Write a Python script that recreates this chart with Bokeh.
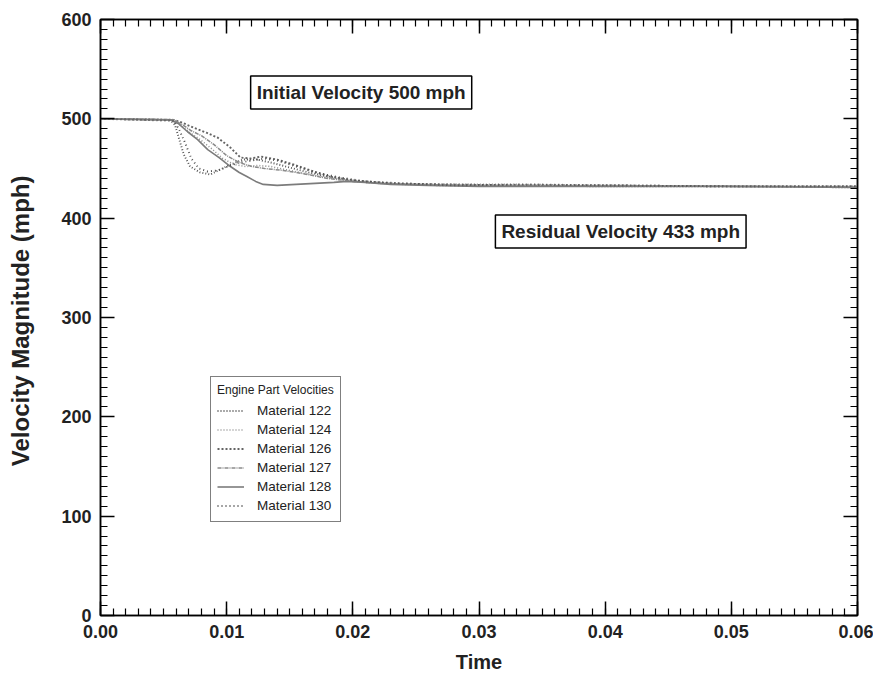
from bokeh.plotting import figure
from bokeh.models import (LinearAxis, SingleIntervalTicker, PrintfTickFormatter,
                          CustomJSTickFormatter, Legend, LegendItem, Label)
from bokeh.embed import file_html
from bokeh.resources import INLINE

# ---- data ----
series_names = ["Material 122", "Material 124", "Material 126",
                "Material 127", "Material 128", "Material 130"]

t_122 = [0, 0.0055, 0.0059, 0.0062, 0.0066, 0.0071, 0.0079, 0.0087, 0.0095, 0.0103,
         0.0113, 0.0124, 0.0135, 0.0150, 0.0165, 0.0180, 0.0200, 0.0230, 0.0270,
         0.0330, 0.0400, 0.0500, 0.0600]
v_122 = [500, 499, 494, 481, 464, 452, 446, 444, 449, 454,
         459, 459, 456, 451, 446, 442, 438, 435, 433,
         433, 432, 432, 431]

t_124 = [0, 0.0058, 0.0064, 0.0071, 0.0079, 0.0088, 0.0097, 0.0106, 0.0115, 0.0125,
         0.0135, 0.0150, 0.0170, 0.0190, 0.0210, 0.0240, 0.0280, 0.0330, 0.0400,
         0.0500, 0.0600]
v_124 = [500, 499, 493, 486, 479, 470, 460, 454, 452, 453,
         452, 448, 443, 439, 436, 434, 434, 434, 433,
         432, 432]

t_126 = [0, 0.0058, 0.0065, 0.0074, 0.0084, 0.0093, 0.0103, 0.0111, 0.0119, 0.0127,
         0.0140, 0.0153, 0.0169, 0.0182, 0.0200, 0.0230, 0.0270, 0.0330, 0.0400,
         0.0500, 0.0600]
v_126 = [500, 499, 496, 491, 486, 481, 471, 461, 460, 462,
         459, 454, 447, 442, 438, 435, 434, 433, 433,
         432, 432]

t_127 = [0, 0.0058, 0.0065, 0.0072, 0.0080, 0.0090, 0.0100, 0.0110, 0.0120, 0.0130,
         0.0145, 0.0160, 0.0180, 0.0200, 0.0220, 0.0250, 0.0300, 0.0400, 0.0500, 0.0600]
v_127 = [500, 499, 494, 488, 483, 474, 463, 456, 452, 450,
         448, 445, 440, 437, 435, 434, 433, 433, 432, 432]

t_128 = [0, 0.0055, 0.0062, 0.0069, 0.0077, 0.0085, 0.0094, 0.0103, 0.0110, 0.0116,
         0.0123, 0.0129, 0.0140, 0.0155, 0.0170, 0.0185, 0.0195, 0.0210, 0.0230,
         0.0260, 0.0300, 0.0400, 0.0500, 0.0600]
v_128 = [500, 499, 495, 487, 479, 469, 461, 452, 446, 442,
         437, 434, 433, 434, 435, 436, 437, 436, 434,
         433, 432, 432, 432, 431]

t_130 = [0, 0.0058, 0.0062, 0.0067, 0.0072, 0.0078, 0.0085, 0.0093, 0.0101, 0.0110,
         0.0120, 0.0130, 0.0140, 0.0155, 0.0170, 0.0190, 0.0210, 0.0240, 0.0280,
         0.0340, 0.0400, 0.0500, 0.0600]
v_130 = [500, 498, 490, 476, 460, 450, 447, 448, 452, 456,
         458, 460, 458, 452, 446, 441, 437, 435, 433,
         434, 433, 432, 432]

series_t = [t_122, t_124, t_126, t_127, t_128, t_130]
series_v = [v_122, v_124, v_126, v_127, v_128, v_130]

line_colors = ["#585858", "#909090", "#646464", "#8a8a8a", "#7c7c7c", "#505050"]
line_dashes = ["1 2", "1 2", "2 2", "4 1 1 1", "solid", "1 3"]
line_widths = [1.9, 1.6, 1.9, 1.5, 1.6, 1.9]

# ---- figure ----
FONT = "Liberation Sans"
p = figure(width=873, height=676, x_range=(0, 0.06), y_range=(0, 600),
           output_backend="svg", toolbar_location=None,
           min_border_left=100, min_border_right=16, min_border_top=19,
           min_border_bottom=61)
p.background_fill_alpha = 0
p.border_fill_color = "white"
p.border_fill_alpha = 0
p.xgrid.visible = False
p.ygrid.visible = False
p.outline_line_color = "black"
p.outline_line_width = 1.5

x_ticker = SingleIntervalTicker(interval=0.01, num_minor_ticks=10)
y_ticker = SingleIntervalTicker(interval=100, num_minor_ticks=10)

def style_axis(ax, labels=True):
    ax.axis_line_color = "black"
    ax.axis_line_width = 1.5
    ax.major_tick_in = 14
    ax.major_tick_out = 0
    ax.minor_tick_in = 7
    ax.minor_tick_out = 0
    ax.major_tick_line_color = "black"
    ax.minor_tick_line_color = "black"
    ax.major_tick_line_width = 1.5
    ax.minor_tick_line_width = 1.2
    ax.major_label_text_font = FONT
    ax.major_label_text_font_style = "bold"
    ax.major_label_text_color = "#222222"
    ax.major_label_text_font_size = "18px"
    if not labels:
        ax.formatter = CustomJSTickFormatter(code="return '';")
        ax.major_label_standoff = 0

xa = p.xaxis[0]
xa.ticker = x_ticker
xa.formatter = PrintfTickFormatter(format="%.2f")
style_axis(xa)
xa.major_label_standoff = 9
xa.axis_label = "Time"
xa.axis_label_text_font = FONT
xa.axis_label_text_font_style = "bold"
xa.axis_label_text_font_size = "20px"
xa.axis_label_text_color = "#222222"
xa.axis_label_standoff = 10

ya = p.yaxis[0]
ya.ticker = y_ticker
style_axis(ya)
ya.major_label_standoff = 9
ya.axis_label = "Velocity Magnitude  (mph)"
ya.axis_label_text_font = FONT
ya.axis_label_text_font_style = "bold"
ya.axis_label_text_font_size = "24px"
ya.axis_label_text_color = "#222222"
ya.axis_label_standoff = 24

top_ax = LinearAxis(ticker=x_ticker)
style_axis(top_ax, labels=False)
p.add_layout(top_ax, "above")
right_ax = LinearAxis(ticker=y_ticker)
style_axis(right_ax, labels=False)
p.add_layout(right_ax, "right")

items = []
for name, tt, vv, c, d, w in zip(series_names, series_t, series_v,
                                 line_colors, line_dashes, line_widths):
    r = p.line(tt, vv, line_color=c, line_dash=d, line_width=w)
    items.append(LegendItem(label=name, renderers=[r]))

legend = Legend(items=items, location=(110, 93),
                title="Engine Part Velocities",
                title_text_font=FONT, title_text_font_size="12px",
                title_text_font_style="normal", title_text_color="#222222",
                title_standoff=4,
                label_text_font=FONT, label_text_font_size="13.5px",
                label_text_color="#222222",
                label_height=19, glyph_height=19, glyph_width=27,
                label_standoff=13, spacing=0, padding=6, margin=0,
                border_line_color="black", border_line_width=1.5,
                background_fill_color="white", background_fill_alpha=1)
p.add_layout(legend, "center")

box_style = dict(text_font=FONT, text_font_style="bold", text_font_size="19px",
                 text_color="#222222", border_line_color="black",
                 border_line_width=1.5, background_fill_color="white",
                 padding=6, text_align="left", text_baseline="bottom")
p.add_layout(Label(x=0.0119, y=510, text="Initial Velocity 500 mph", **box_style))
p.add_layout(Label(x=0.0313, y=370, text="Residual Velocity 433 mph", **box_style))

open("out.html", "w").write(file_html(p, INLINE))
